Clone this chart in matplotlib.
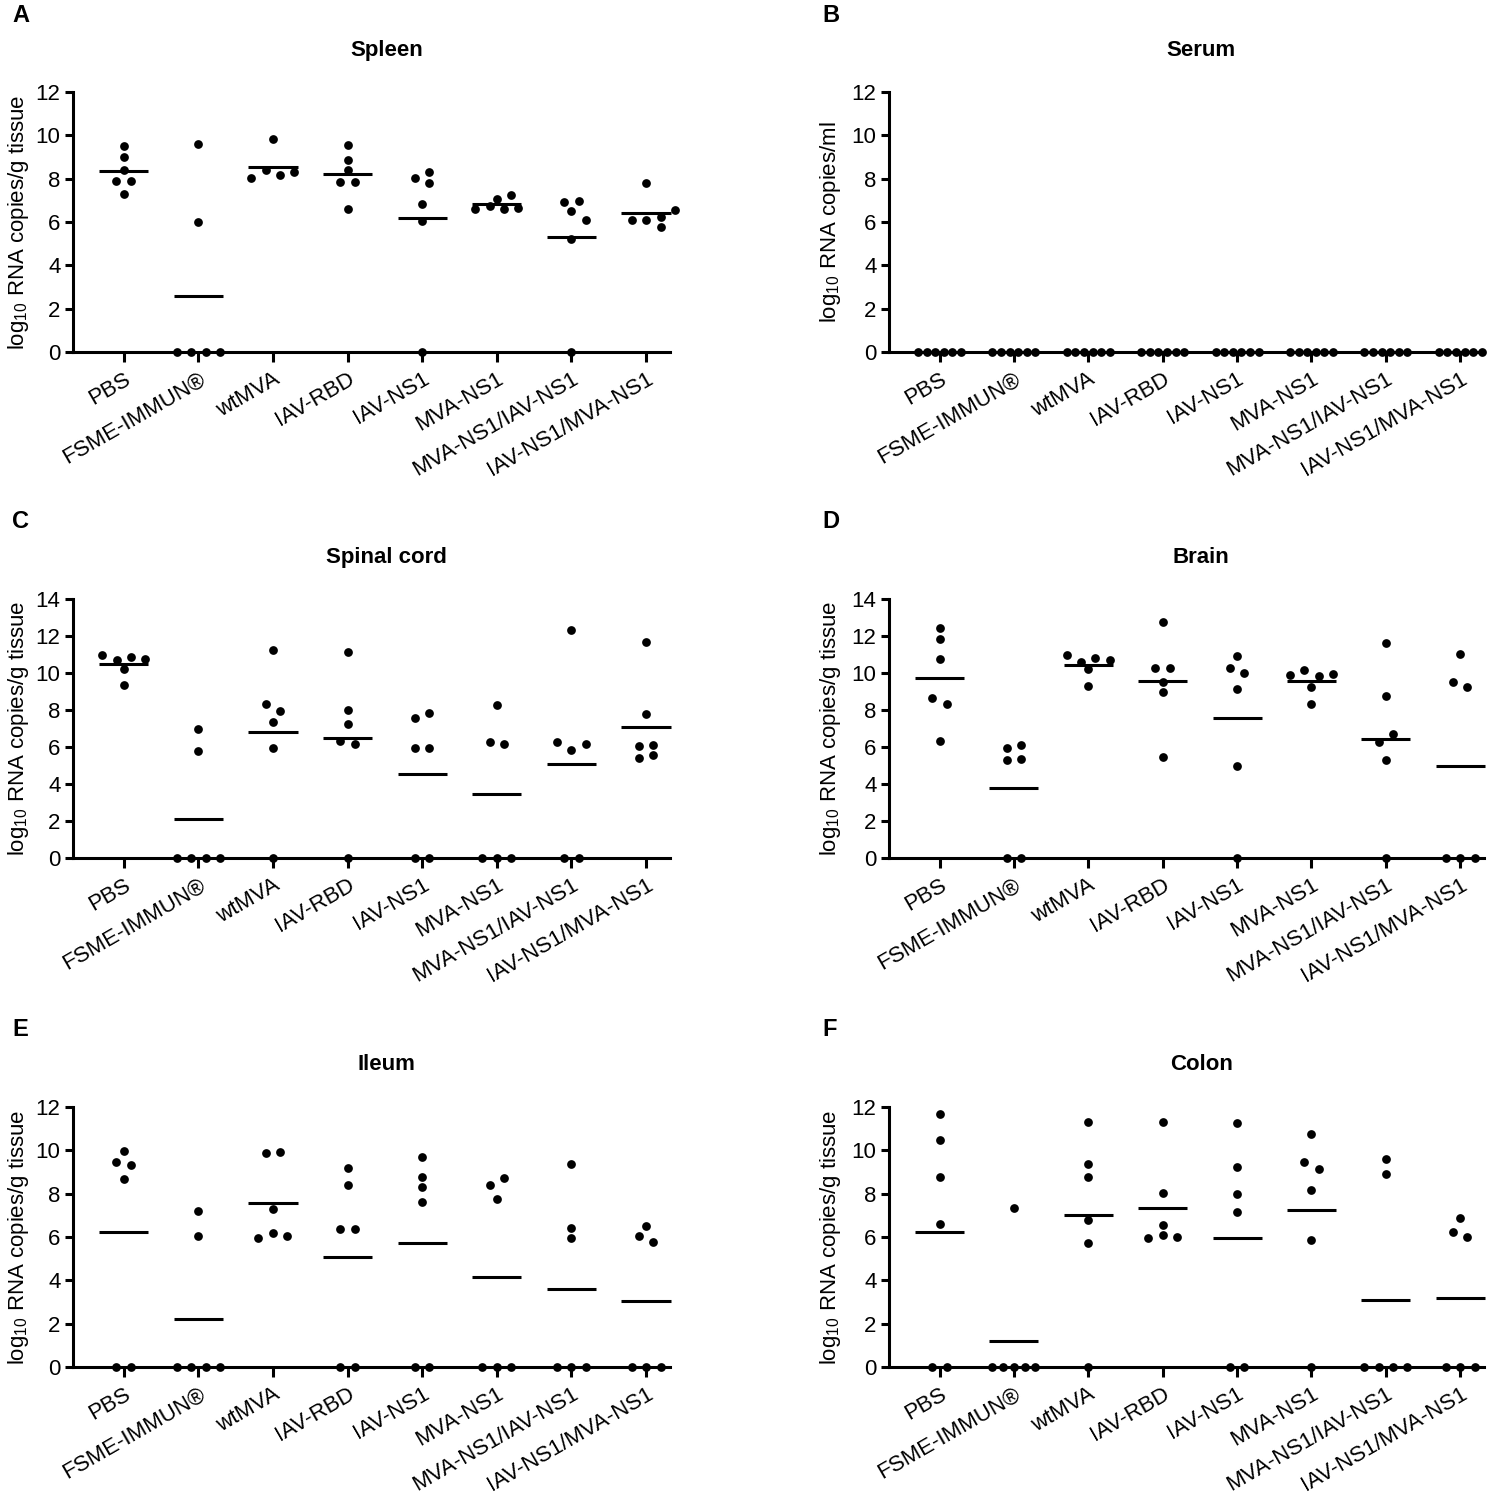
"""Viral RNA load per organ (log10 copies) for each vaccination group, six panels"""

import numpy as np
import matplotlib
matplotlib.use("Agg")
import matplotlib.pyplot as plt
from matplotlib.transforms import offset_copy

plt.rcParams["font.family"] = ["Liberation Sans", "DejaVu Sans"]

groups = ["PBS", "FSME-IMMUN®", "wtMVA", "IAV-RBD", "IAV-NS1",
          "MVA-NS1", "MVA-NS1/IAV-NS1", "IAV-NS1/MVA-NS1"]

# log10 RNA copies per animal, one list per group
spleen = [
    [9.5, 9.0, 8.4, 7.9, 7.9, 7.3],
    [9.6, 6.0, 0, 0, 0, 0],
    [9.85, 8.02, 8.42, 8.15, 8.3],
    [9.57, 8.88, 8.42, 7.85, 7.85, 6.62],
    [8.05, 8.3, 7.8, 6.85, 6.05, 0],
    [7.05, 6.58, 6.74, 7.26, 6.62, 6.66],
    [6.92, 6.98, 6.52, 6.09, 5.2, 0],
    [7.78, 6.21, 6.08, 6.08, 6.55, 5.78],
]
serum = [
    [0, 0, 0, 0, 0, 0],
    [0, 0, 0, 0, 0, 0],
    [0, 0, 0, 0, 0, 0],
    [0, 0, 0, 0, 0, 0],
    [0, 0, 0, 0, 0, 0],
    [0, 0, 0, 0, 0, 0],
    [0, 0, 0, 0, 0, 0],
    [0, 0, 0, 0, 0, 0],
]
spinal_cord = [
    [10.95, 10.7, 10.87, 10.75, 10.23, 9.33],
    [7.0, 5.8, 0, 0, 0, 0],
    [11.23, 8.34, 7.95, 7.33, 5.96, 0],
    [11.15, 7.98, 7.24, 6.34, 6.14, 0],
    [7.57, 7.82, 5.96, 5.96, 0, 0],
    [8.29, 6.25, 6.18, 0, 0, 0],
    [12.3, 6.29, 5.84, 6.16, 0, 0],
    [11.66, 7.78, 6.04, 6.09, 5.42, 5.55],
]
brain = [
    [12.41, 11.86, 10.77, 8.67, 8.31, 6.34],
    [5.95, 6.13, 5.32, 5.37, 0, 0],
    [10.95, 10.62, 10.83, 10.72, 10.2, 9.3],
    [12.77, 10.29, 10.25, 9.53, 8.99, 5.44],
    [10.94, 10.25, 10.02, 9.12, 5.0, 0],
    [9.89, 10.16, 9.86, 9.95, 9.26, 8.34],
    [11.6, 8.77, 6.25, 6.68, 5.3, 0],
    [11.03, 9.5, 9.23, 0, 0, 0],
]
ileum = [
    [9.98, 9.44, 9.31, 8.67, 0, 0],
    [7.2, 6.03, 0, 0, 0, 0],
    [9.89, 9.93, 7.3, 5.95, 6.17, 6.05],
    [9.19, 8.42, 6.37, 6.37, 0, 0],
    [9.67, 8.76, 8.3, 7.6, 0, 0],
    [8.41, 8.73, 7.76, 0, 0, 0],
    [9.39, 6.4, 5.94, 0, 0, 0],
    [6.05, 6.52, 5.75, 0, 0, 0],
]
colon = [
    [11.66, 10.46, 8.75, 6.6, 0, 0],
    [7.33, 0, 0, 0, 0, 0],
    [11.31, 9.38, 8.79, 6.77, 5.72, 0],
    [11.32, 8.05, 6.56, 5.94, 6.1, 5.98],
    [11.28, 9.24, 7.99, 7.14, 0, 0],
    [10.77, 9.44, 9.16, 8.19, 5.85, 0],
    [9.58, 8.9, 0, 0, 0, 0],
    [6.23, 6.86, 5.98, 0, 0, 0],
]

ylab_tissue = "log$_{\\mathregular{10}}$ RNA copies/g tissue"
ylab_serum = "log$_{\\mathregular{10}}$ RNA copies/ml"

panels = [
    ("A", "Spleen", spleen, 12, ylab_tissue),
    ("B", "Serum", serum, 12, ylab_serum),
    ("C", "Spinal cord", spinal_cord, 14, ylab_tissue),
    ("D", "Brain", brain, 14, ylab_tissue),
    ("E", "Ileum", ileum, 12, ylab_tissue),
    ("F", "Colon", colon, 12, ylab_tissue),
]


def swarm_offsets(vals, px_x, px_y, step_px=14.5, max_span=43.0,
                  row_px=9.4, hit_px=9.2):
    """Prism-like scatter: bin close values into rows, centre each row, avoid overlaps."""
    vals = np.asarray(vals, float)
    order = np.argsort(-vals, kind="stable")
    rows = []
    for i in order:
        if rows and vals[rows[-1][0]] - vals[i] < row_px / px_y:
            rows[-1].append(i)
        else:
            rows.append([i])
    offs = np.zeros(len(vals))
    placed = []
    shifts = np.array([0, 0.5, -0.5, 1, -1, 1.5, -1.5, 2, -2, 2.5, -2.5]) * step_px
    for row in sorted(rows, key=len, reverse=True):
        row = sorted(row)
        n = len(row)
        step = step_px if n < 2 else min(step_px, max_span / (n - 1))
        base = (np.arange(n) - (n - 1) / 2) * step
        for s in shifts:
            cand = base + s
            clash = False
            for c, i in zip(cand, row):
                for j in placed:
                    dy = (vals[i] - vals[j]) * px_y
                    if np.hypot(c - offs[j], dy) < hit_px:
                        clash = True
            if not clash:
                break
        offs[row] = cand
        placed.extend(row)
    return offs / px_x


W, H = 1512, 1494
fig = plt.figure(figsize=(W / 100, H / 100), dpi=100)

col_px = [(73, 670), (889, 1484)]
row_px = [(92, 352), (599, 858), (1107, 1367)]
ylab_px = [-42, -46]
letter_px = [(12, 16), (822, 16), (12, 521), (822, 521), (12, 1029), (822, 1029)]
xlim = (-0.68, 7.32)

for k, (letter, title, data, ymax, ylab) in enumerate(panels):
    x0, x1 = col_px[k % 2]
    y0, y1 = row_px[k // 2]
    ax = fig.add_axes([x0 / W, 1 - y1 / H, (x1 - x0) / W, (y1 - y0) / H])
    ax.set_xlim(*xlim)
    ax.set_ylim(0, ymax)
    px_x = (x1 - x0) / (xlim[1] - xlim[0])
    px_y = (y1 - y0) / ymax

    for i, vals in enumerate(data):
        dx = swarm_offsets(vals, px_x, px_y)
        ax.plot(i + dx, vals, "o", color="black", ms=6.3, mew=0,
                clip_on=False, zorder=4)
        ax.hlines(np.mean(vals), i - 0.33, i + 0.33, color="black",
                  lw=2.2, zorder=5, clip_on=False)

    for side in ("top", "right"):
        ax.spines[side].set_visible(False)
    for side in ("left", "bottom"):
        ax.spines[side].set_linewidth(2.2)

    ax.set_yticks(np.arange(0, ymax + 1, 2))
    ax.set_xticks(range(len(groups)))
    ax.set_xticklabels(groups, rotation=30, ha="right", va="top",
                       rotation_mode="anchor")
    ax.tick_params(axis="y", length=5.5, width=2.2, pad=3.5, labelsize=16)
    ax.tick_params(axis="x", length=7, width=2.2, pad=5, labelsize=16)

    ax.set_ylabel(ylab, fontsize=16)
    ax.yaxis.set_label_coords(ylab_px[k % 2] / (x1 - x0), 0.5)

    ax.text(0.525, 1, title, ha="center", va="center", fontsize=16,
            fontweight="bold",
            transform=offset_copy(ax.transAxes, fig=fig, y=42, units="dots"))

    lx, ly = letter_px[k]
    fig.text(lx / W, 1 - ly / H, letter, ha="left", va="center",
             fontsize=17, fontweight="bold")

fig.savefig("out.png", dpi=100)
